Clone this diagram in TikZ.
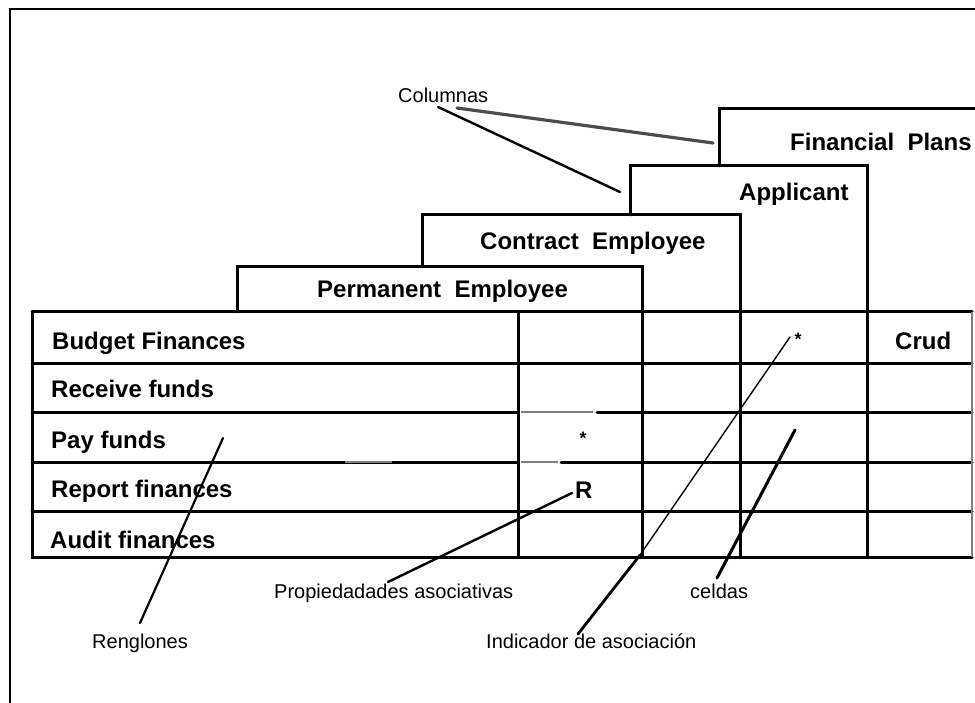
\documentclass[tikz,border=0pt]{standalone}
\usepackage{fontspec}
\setmainfont{Liberation Sans}
\begin{document}
\begin{tikzpicture}[x=1pt,y=-1pt,
  grid/.style={line width=3pt, line cap=round},
  faint/.style={line width=2.4pt, draw=black!50},
  hd/.style={font=\fontsize{24}{26}\selectfont\bfseries, inner sep=0pt, anchor=base west},
  small/.style={font=\fontsize{20}{22}\selectfont, inner sep=0pt, anchor=base west},
  starmark/.style={font=\fontsize{18}{20}\selectfont\bfseries, inner sep=0pt},
  lead/.style={line width=2.4pt, line cap=round},
]
\useasboundingbox (0,0) rectangle (975,703);
\fill[white] (0,0) rectangle (975,703);
% outer frame
\draw[line width=2pt] (10,703) -- (10,9) -- (975,9);

% column headers (staircase)
\draw[grid] (719,166) -- (719,109) -- (975,109);
\draw[grid] (630,215) -- (630,166) -- (867,166) -- (867,557);
\draw[grid] (422,266) -- (422,215) -- (740,215) -- (740,557);
\draw[grid] (237,312) -- (237,267) -- (642,267) -- (642,557);

% table
\draw[grid] (32,312) -- (972,312);
\draw[grid] (32,364) -- (972,364);
\draw[grid] (32,412) -- (518,412);
\draw[faint] (521,412) -- (593,412);
\draw[grid] (597,412) -- (972,412);
\draw[grid] (32,462) -- (518,462);
\draw[faint] (345,462) -- (392,462);
\draw[faint] (521,462) -- (558,462);
\draw[grid] (561,462) -- (972,462);
\draw[grid] (32,511) -- (972,511);
\draw[grid] (32,312) -- (32,557) -- (972,557);
\draw[grid] (518,312) -- (518,557);
\draw[line width=1.2pt, draw=black!50] (972,312) -- (972,557);

% row labels
\node[hd] (r1) at (52,350) {Budget Finances};
\node[hd] (r2) at (51,398) {Receive funds};
\node[hd] (r3) at (51,448) {Pay funds};
\node[hd] (r4) at (51,497) {Report finances};
\node[hd] (r5) at (50,548) {Audit finances};

% column labels
\node[hd] (c1) at (317,298) {Permanent\ \ Employee};
\node[hd] (c2) at (480,250) {Contract\ \ Employee};
\node[hd] (c3) at (739,201) {Applicant};
\node[hd] (c4) at (790,151) {Financial\ \ Plans};

% cell contents
\node[hd] (crud) at (895,350) {Crud};
\node[hd] (rr) at (575,498) {R};
\node[starmark] (s1) at (583,438) {*};
\node[starmark] (s2) at (798,339) {*};

% annotation labels
\node[small] (lcol) at (398,103) {Columnas};
\node[small] (lprop) at (274,598) {Propiedadades asociativas};
\node[small] (lcel) at (690,598) {celdas};
\node[small] (lind) at (486,648) {Indicador de asociación};
\node[small] (lren) at (92,648) {Renglones};

% leader coordinates
\coordinate (colA) at (457,108);
\coordinate (colB) at (438,107);
\coordinate (tFP) at (713,143);
\coordinate (tAp) at (620,192);
\coordinate (renA) at (140,623);
\coordinate (renB) at (223,438);
\coordinate (propA) at (388,582);
\coordinate (propB) at (572,493);
\coordinate (indA) at (578,634);
\coordinate (indM) at (640,555);
\coordinate (indB) at (790,337);
\coordinate (celA) at (717,578);
\coordinate (celB) at (795,430);

% leader lines
\draw[lead, line width=3.2pt, draw=black!70] (colA) -- (tFP);
\draw[lead] (colB) -- (tAp);
\draw[lead, line width=2.2pt] (renA) -- (renB);
\draw[lead] (propA) -- (propB);
\draw[lead, line width=2.8pt] (indA) -- (indM);
\draw[lead, line width=1.4pt] (indM) -- (indB);
\draw[lead, line width=3pt] (celA) -- (celB);
\end{tikzpicture}
\end{document}
